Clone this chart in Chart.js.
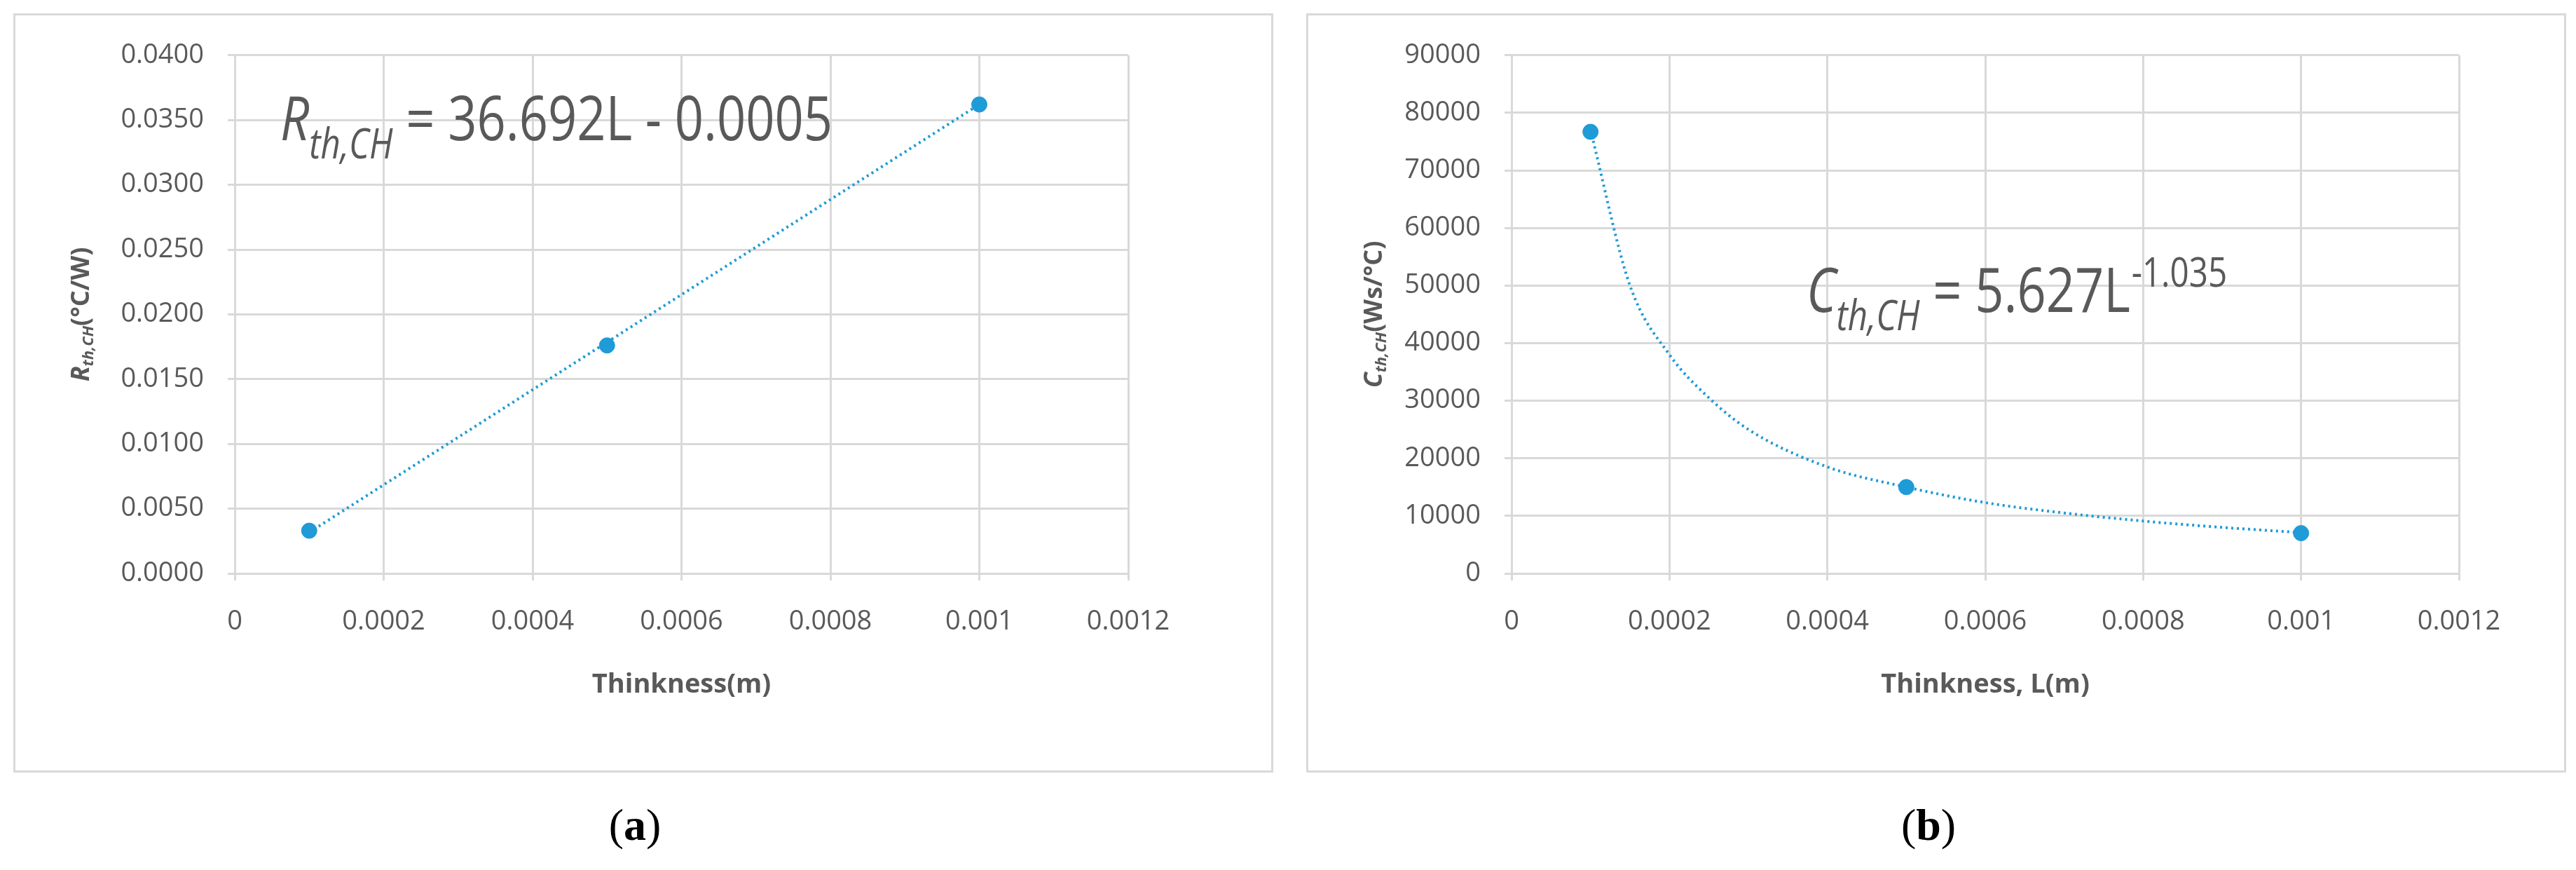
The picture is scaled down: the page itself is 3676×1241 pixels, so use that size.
<!DOCTYPE html>
<html><head><meta charset="utf-8">
<script src="https://cdn.jsdelivr.net/npm/chart.js@4"></script>
<style>
body{margin:0;background:#fff;width:3676px;height:1241px;position:relative;overflow:hidden}
.panel{position:absolute;border:3px solid #d9d9d9;box-sizing:border-box}
.lab{position:absolute;font-family:"Liberation Serif";font-size:64px;color:#000;transform:translateX(-50%)}
</style></head><body>
<div class="panel" style="left:19px;top:19px;width:1798px;height:1083px"><canvas id="a"></canvas></div>
<div class="panel" style="left:1864px;top:19px;width:1798px;height:1083px"><canvas id="b"></canvas></div>
<div class="lab" style="left:906px;top:1140px">(<b>a</b>)</div>
<div class="lab" style="left:2752px;top:1140px">(<b>b</b>)</div>
<script>
const xTicks=[0,0.0002,0.0004,0.0006,0.0008,0.001,0.0012];
const thicknessA=[0.0001,0.0005,0.001];
const resistance=[0.0033,0.0176,0.0362];
const trendAx=[0.0001,0.001];
const trendAy=[0.00317,0.0362];
const thicknessB=[0.0001,0.0005,0.001];
const capacitance=[76700,15000,7000];
const trendBx=[0.0001,0.00015,0.0002,0.00025,0.0003,0.0004,0.0005,0.0006,0.0007,0.0008,0.0009,0.001];
const trendBy=[77000,50000,38000,30500,25000,18500,15000,12300,10500,9100,8000,7100];
const BLUE='#1f9bd7',TXT='#595959',GRID='#d9d9d9';
const FONT='"Open Sans","Liberation Sans"';

function pts(xs,ys){return xs.map((x,i)=>({x,y:ys[i]}));}

function textPlugin(cfg){return {id:'txt',afterDraw(ch){
  const c=ch.ctx;c.save();c.fillStyle=TXT;
  c.save();c.translate(cfg.ytx,ch.chartArea.top+(ch.chartArea.bottom-ch.chartArea.top)/2);c.rotate(-Math.PI/2);
  c.font='bold italic 36px '+FONT;
  const w1=c.measureText(cfg.yMain).width;c.font='italic bold 22px '+FONT;const w2=c.measureText(cfg.ySub).width;
  c.font='bold 36px '+FONT;const w3=c.measureText(cfg.yRest).width;
  let x0=-(w1+w2+w3)/2;c.textBaseline='middle';
  c.font='bold italic 36px '+FONT;c.fillText(cfg.yMain,x0,0);
  c.font='italic bold 22px '+FONT;c.fillText(cfg.ySub,x0+w1,10);
  c.font='bold 36px '+FONT;c.fillText(cfg.yRest,x0+w1+w2,0);
  c.restore();
  c.font='bold 38px '+FONT;c.textAlign='center';c.textBaseline='middle';
  c.fillText(cfg.xTitle,(ch.chartArea.left+ch.chartArea.right)/2,cfg.xty);
  c.translate(cfg.ex,cfg.ey);c.scale(0.82,1);
  c.textAlign='left';c.textBaseline='alphabetic';
  let x=0,y=0;
  c.font='italic 88px '+FONT;c.fillText(cfg.eMain,x,y);x+=c.measureText(cfg.eMain).width;
  c.font='italic 60px '+FONT;c.fillText(cfg.eSub,x,y+26);x+=c.measureText(cfg.eSub).width;
  c.font='88px '+FONT;c.fillText(cfg.eRest,x,y);x+=c.measureText(cfg.eRest).width;
  if(cfg.eSup){c.font='58px '+FONT;c.fillText(cfg.eSup,x+2,y-36);}
  c.restore();
}};}

function make(id,pointsD,trendD,ymax,ystep,yfmt,yw,rp,cfg){
  new Chart(document.getElementById(id),{
    type:'scatter',
    data:{datasets:[
      {data:trendD,showLine:true,borderColor:BLUE,borderWidth:4,borderDash:[3,5],pointRadius:0,tension:0.4,cubicInterpolationMode:'monotone',fill:false},
      {data:pointsD,backgroundColor:BLUE,borderColor:BLUE,pointRadius:11}
    ]},
    options:{responsive:false,animation:false,devicePixelRatio:1,
      layout:{padding:{left:0,top:55,right:rp,bottom:0}},
      plugins:{legend:{display:false},tooltip:{enabled:false}},
      scales:{
        x:{type:'linear',min:0,max:0.0012,afterBuildTicks(s){s.ticks=xTicks.map(v=>({value:v}));},
          ticks:{padding:36,color:TXT,font:{family:FONT,size:38},callback:v=>String(+v.toFixed(4))},
          grid:{color:GRID,lineWidth:3,tickLength:10},border:{color:GRID,width:3},
          afterFit(s){s.height=281;}},
        y:{min:0,max:ymax,ticks:{stepSize:ystep,padding:34,color:TXT,font:{family:FONT,size:38},callback:yfmt},
          grid:{color:GRID,lineWidth:3,tickLength:10},border:{color:GRID,width:3},
          afterFit(s){s.width=yw;}}
      }},
    plugins:[textPlugin(cfg)]
  });
}
const ca=document.getElementById('a');ca.width=1792;ca.height=1077;
const cb=document.getElementById('b');cb.width=1792;cb.height=1077;
make('a',pts(thicknessA,resistance),pts(trendAx,trendAy),0.04,0.005,v=>v.toFixed(4),313,204,
 {ytx:95,yMain:'R',ySub:'th,CH',yRest:'(°C/W)',xTitle:'Thinkness(m)',xty:955,ex:378,ey:178,eMain:'R',eSub:'th,CH',eRest:' = 36.692L - 0.0005'});
make('b',pts(thicknessB,capacitance),pts(trendBx,trendBy),90000,10000,v=>String(v),290,150,
 {ytx:95,yMain:'C',ySub:'th,CH',yRest:'(Ws/°C)',xTitle:'Thinkness, L(m)',xty:955,ex:711,ey:423,eMain:'C',eSub:'th,CH',eRest:' = 5.627L',eSup:'-1.035'});
</script></body></html>
